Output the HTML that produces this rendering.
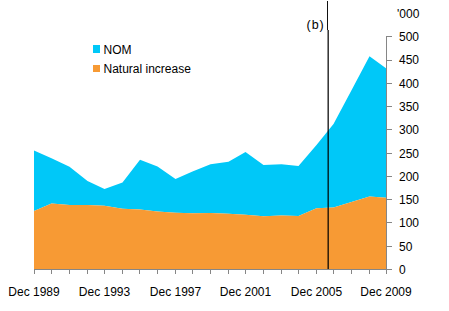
<!DOCTYPE html>
<html><head><meta charset="utf-8"><style>
html,body{margin:0;padding:0;background:#fff;}
body{width:449px;height:311px;overflow:hidden;position:relative;}
svg{position:absolute;left:0;top:0;}
text{font-family:"Liberation Sans",sans-serif;font-size:12px;fill:#000;}
</style></head><body>
<svg width="449" height="311" viewBox="0 0 449 311">
<path d="M34,150.4 L51.5,158.2 L69.5,166.8 L87.5,181 L104.5,189 L122.5,182.6 L140,159.8 L157.5,166.5 L175.5,178.9 L192.5,171.5 L210.5,164.3 L228.5,161.7 L245.5,152 L263.5,164.9 L281.5,164.3 L298.5,166 L316.5,145 L333.5,124 L351.5,90.2 L369.5,56.3 L386,68.3 L386,197.8 L369.5,196.4 L351.5,202.1 L333.5,207.4 L316.5,208.3 L298.5,216.1 L281.5,215.6 L263.5,216.2 L245.5,214.7 L228.5,213.8 L210.5,213 L192.5,213.3 L175.5,212.8 L157.5,211.6 L140,209.4 L122.5,208.8 L104.5,205.7 L87.5,205 L69.5,204.9 L51.5,203.6 L34,211 Z" fill="#00C8F8"/>
<path d="M34,211 L51.5,203.6 L69.5,204.9 L87.5,205 L104.5,205.7 L122.5,208.8 L140,209.4 L157.5,211.6 L175.5,212.8 L192.5,213.3 L210.5,213 L228.5,213.8 L245.5,214.7 L263.5,216.2 L281.5,215.6 L298.5,216.1 L316.5,208.3 L333.5,207.4 L351.5,202.1 L369.5,196.4 L386,197.8 L386,269.0 L34,269.0 Z" fill="#F79A34"/>
<rect x="34" y="269" width="358" height="1" fill="#868686"/>
<rect x="386" y="36" width="1" height="238" fill="#868686"/>
<rect x="34" y="269" width="1" height="5" fill="#868686"/><rect x="51" y="269" width="1" height="5" fill="#868686"/><rect x="69" y="269" width="1" height="5" fill="#868686"/><rect x="87" y="269" width="1" height="5" fill="#868686"/><rect x="104" y="269" width="1" height="5" fill="#868686"/><rect x="122" y="269" width="1" height="5" fill="#868686"/><rect x="139" y="269" width="1" height="5" fill="#868686"/><rect x="157" y="269" width="1" height="5" fill="#868686"/><rect x="175" y="269" width="1" height="5" fill="#868686"/><rect x="192" y="269" width="1" height="5" fill="#868686"/><rect x="210" y="269" width="1" height="5" fill="#868686"/><rect x="228" y="269" width="1" height="5" fill="#868686"/><rect x="245" y="269" width="1" height="5" fill="#868686"/><rect x="263" y="269" width="1" height="5" fill="#868686"/><rect x="281" y="269" width="1" height="5" fill="#868686"/><rect x="298" y="269" width="1" height="5" fill="#868686"/><rect x="316" y="269" width="1" height="5" fill="#868686"/><rect x="333" y="269" width="1" height="5" fill="#868686"/><rect x="351" y="269" width="1" height="5" fill="#868686"/><rect x="369" y="269" width="1" height="5" fill="#868686"/><rect x="386" y="269" width="1" height="5" fill="#868686"/>
<rect x="386" y="269" width="6" height="1" fill="#868686"/><rect x="386" y="246" width="6" height="1" fill="#868686"/><rect x="386" y="222" width="6" height="1" fill="#868686"/><rect x="386" y="199" width="6" height="1" fill="#868686"/><rect x="386" y="176" width="6" height="1" fill="#868686"/><rect x="386" y="153" width="6" height="1" fill="#868686"/><rect x="386" y="129" width="6" height="1" fill="#868686"/><rect x="386" y="106" width="6" height="1" fill="#868686"/><rect x="386" y="83" width="6" height="1" fill="#868686"/><rect x="386" y="60" width="6" height="1" fill="#868686"/><rect x="386" y="36" width="6" height="1" fill="#868686"/>
<g><text x="399" y="274">0</text><text x="399" y="250.7">50</text><text x="399" y="227.4">100</text><text x="399" y="204.1">150</text><text x="399" y="180.8">200</text><text x="399" y="157.5">250</text><text x="399" y="134.2">300</text><text x="399" y="110.9">350</text><text x="399" y="87.6">400</text><text x="399" y="64.3">450</text><text x="399" y="41">500</text></g>
<text x="397" y="17.5">'000</text>
<text x="34" y="295.8" text-anchor="middle">Dec 1989</text><text x="104.5" y="295.8" text-anchor="middle">Dec 1993</text><text x="175.5" y="295.8" text-anchor="middle">Dec 1997</text><text x="245.5" y="295.8" text-anchor="middle">Dec 2001</text><text x="316.5" y="295.8" text-anchor="middle">Dec 2005</text><text x="386" y="295.8" text-anchor="middle">Dec 2009</text>
<rect x="327" y="1" width="1" height="29" fill="#111"/>
<rect x="327" y="30" width="1" height="239" fill="#000" opacity="0.45"/><rect x="328" y="30" width="1" height="239" fill="#000" opacity="0.78"/>
<text x="306.5" y="29" style="font-size:12.5px;letter-spacing:1px">(b)</text>
<rect x="93" y="45" width="7" height="8" fill="#00C8F8"/>
<text x="103.5" y="54">NOM</text>
<rect x="93" y="65" width="7" height="7" fill="#F79A34"/>
<text x="103.5" y="73">Natural increase</text>
</svg>
</body></html>
